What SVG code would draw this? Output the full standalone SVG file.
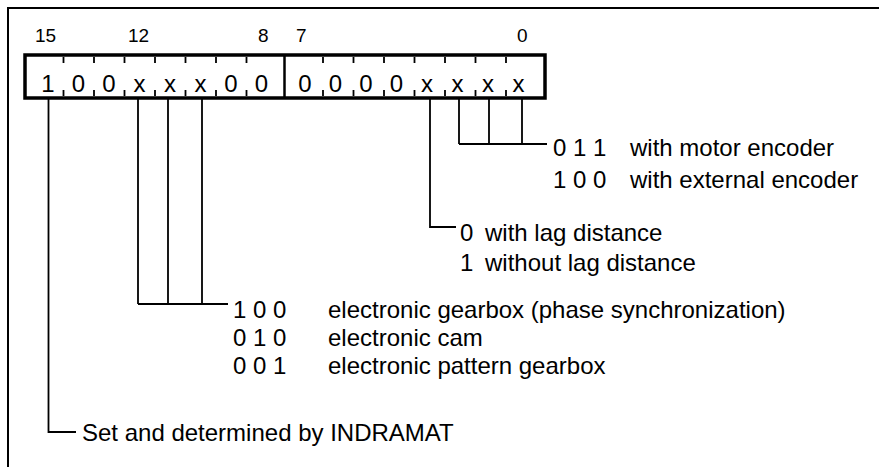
<svg xmlns="http://www.w3.org/2000/svg" width="879" height="467" viewBox="0 0 879 467">
<style>
text{font-family:"Liberation Sans",Arial,sans-serif;fill:#000}
.lbl{font-size:19px}
.bit{font-size:24px;text-anchor:middle}
.t{font-size:24px}
.ln{stroke:#000;stroke-width:1.8;fill:none}
.tick{stroke:#000;stroke-width:1.8}
</style>
<rect width="879" height="467" fill="#fff"/>
<g id="frame">
<line x1="7" y1="8" x2="879" y2="8" stroke="#000" stroke-width="2"/>
<line x1="8" y1="7" x2="8" y2="467" stroke="#000" stroke-width="2"/>
</g>
<g id="bitnumbers">
<text class="lbl" x="35" y="42">15</text>
<text class="lbl" x="128" y="42">12</text>
<text class="lbl" x="258" y="42">8</text>
<text class="lbl" x="296" y="42">7</text>
<text class="lbl" x="517" y="42">0</text>
</g>
<g id="register">
<rect x="25" y="55" width="520" height="43" fill="none" stroke="#000" stroke-width="3.5"/>
<line x1="284.5" y1="55" x2="284.5" y2="98" stroke="#000" stroke-width="2.5"/>
<g class="tick">
<path d="M63.5 57v6M94 57v6M124.5 57v6M155 57v6M185.5 57v6M216 57v6M246.5 57v6M323 57v6M353.5 57v6M384 57v6M414.5 57v6M445 57v6M475.5 57v6M506 57v6"/>
<path d="M63.5 90v6M94 90v6M124.5 90v6M155 90v6M185.5 90v6M216 90v6M246.5 90v6M323 90v6M353.5 90v6M384 90v6M414.5 90v6M445 90v6M475.5 90v6M506 90v6"/>
</g>
<text class="bit" x="48" y="92">1</text>
<text class="bit" x="78.5" y="92">0</text>
<text class="bit" x="109" y="92">0</text>
<text class="bit" x="139.5" y="92">x</text>
<text class="bit" x="170" y="92">x</text>
<text class="bit" x="200.5" y="92">x</text>
<text class="bit" x="231" y="92">0</text>
<text class="bit" x="261.5" y="92">0</text>
<text class="bit" x="305" y="92">0</text>
<text class="bit" x="335.5" y="92">0</text>
<text class="bit" x="366" y="92">0</text>
<text class="bit" x="396.5" y="92">0</text>
<text class="bit" x="427" y="92">x</text>
<text class="bit" x="457.5" y="92">x</text>
<text class="bit" x="488" y="92">x</text>
<text class="bit" x="518.5" y="92">x</text>
</g>
<g id="connectors">
<path class="ln" d="M459 99V144M489 99V144M522 99V144M459 144H547"/>
<path class="ln" d="M430 99V227H456"/>
<path class="ln" d="M138 99V304M168 99V304M202 99V304M138 304H228"/>
<path class="ln" d="M48.5 99V432H76"/>
</g>
<g id="encoder">
<text class="t" x="553" y="156">0 1 1</text>
<text class="t" x="630" y="156">with motor encoder</text>
<text class="t" x="553" y="188">1 0 0</text>
<text class="t" x="630" y="188">with external encoder</text>
</g>
<g id="lag">
<text class="t" x="460" y="241">0</text>
<text class="t" x="485" y="241">with lag distance</text>
<text class="t" x="460" y="271">1</text>
<text class="t" x="485" y="271">without lag distance</text>
</g>
<g id="mode">
<text class="t" x="233" y="318">1 0 0</text>
<text class="t" x="328" y="318">electronic gearbox (phase synchronization)</text>
<text class="t" x="233" y="346">0 1 0</text>
<text class="t" x="328" y="346">electronic cam</text>
<text class="t" x="233" y="374">0 0 1</text>
<text class="t" x="328" y="374">electronic pattern gearbox</text>
</g>
<g id="indramat">
<text class="t" x="82" y="441">Set and determined by INDRAMAT</text>
</g>
</svg>
